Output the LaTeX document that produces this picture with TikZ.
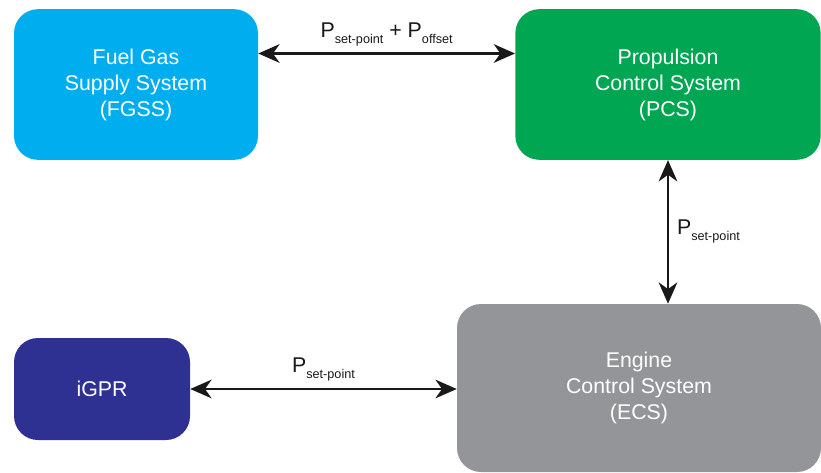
\documentclass[tikz,border=0pt]{standalone}
\usepackage{fontspec}
\setmainfont{Liberation Sans}
\usepackage{tikz}
\usetikzlibrary{arrows.meta, positioning, calc}
\definecolor{fgssblue}{HTML}{00AEEF}
\definecolor{pcsgreen}{HTML}{00A651}
\definecolor{ecsgray}{HTML}{939598}
\definecolor{igprblue}{HTML}{2E3192}
\newcommand{\psub}[1]{P\raisebox{-4.5pt}{\fontsize{9.5}{11}\selectfont #1}}

\begin{document}
\begin{tikzpicture}[x=0.75pt, y=0.75pt,
  sysbox/.style={rounded corners=18pt, inner sep=0pt, align=center, text=white,
    font=\fontsize{16}{19.5}\selectfont},
  link/.style={{Stealth[length=16pt, width=14pt, inset=5pt]}-{Stealth[length=16pt, width=14pt, inset=5pt]},
    line width=1.6pt, black!90},
  lbl/.style={font=\fontsize{16}{19}\selectfont, inner sep=2pt}]
\useasboundingbox (0,0) rectangle (821,472);
% system blocks
\node[sysbox, fill=fgssblue, minimum width=183pt, minimum height=113pt]
  (fgss) at (136,387.5) {Fuel Gas\\Supply System\\(FGSS)};
\node[sysbox, fill=pcsgreen, minimum width=229pt, minimum height=113pt]
  (pcs) at (668,387.5) {Propulsion\\Control System\\(PCS)};
\node[sysbox, fill=ecsgray, minimum width=273pt, minimum height=126pt]
  (ecs) at (639,84) {Engine\\Control System\\(ECS)};
\node[sysbox, fill=igprblue, minimum width=132pt, minimum height=76.5pt]
  (igpr) at (102,83) {iGPR};
% signal links
\draw[link] ([yshift=23.25pt]fgss.east) -- ([yshift=23.25pt]pcs.west)
  node[lbl, midway, above=3pt] (topl) {\psub{set-point} + \psub{offset}};
\draw[link] (pcs.south) -- (pcs.south |- ecs.north)
  node[lbl, midway, right=4pt] (midl) {\psub{set-point}};
\draw[link] (igpr.east) -- (igpr.east -| ecs.west)
  node[lbl, midway, above=3pt] (botl) {\psub{set-point}};
\end{tikzpicture}
\end{document}
